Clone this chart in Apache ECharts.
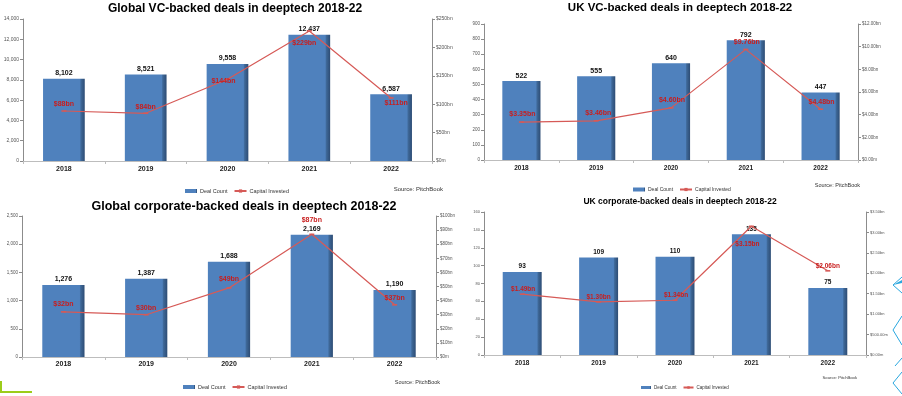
<!DOCTYPE html>
<html>
<head>
<meta charset="utf-8">
<script src="https://cdn.jsdelivr.net/npm/echarts@6/dist/echarts.min.js"></script>
<style>
  html, body { margin: 0; padding: 0; background: #fff; }
  #chart { width: 902px; height: 396px; }
</style>
</head>
<body>
<div id="chart"></div>
<script>
  // data
  const years = ['2018', '2019', '2020', '2021', '2022'];
  const globalVcDeals = [8102, 8521, 9558, 12437, 6587];
  const globalVcCapital = [88, 84, 144, 229, 111];
  const ukVcDeals = [522, 555, 640, 792, 447];
  const ukVcCapital = [3.35, 3.46, 4.60, 9.76, 4.48];
  const globalCorpDeals = [1276, 1387, 1688, 2169, 1190];
  const globalCorpCapital = [32, 30, 49, 87, 37];
  const ukCorpDeals = [93, 109, 110, 135, 75];
  const ukCorpCapital = [1.49, 1.30, 1.34, 3.15, 2.06];

  const fmtInt = v => Number(v).toLocaleString('en-US');
  const fmtBn = v => '$' + v + 'bn';
  const fmtBn2 = v => '$' + Number(v).toFixed(2) + 'bn';

  // layout of each panel (positions / styles only)
  const panels = [
    {
      title: 'Global VC-backed deals in deeptech 2018-22', titleX: 235, titleY: 3, titleSize: 12,
      grid: { left: 23, top: 19, width: 409, height: 142 },
      deals: globalVcDeals, capital: globalVcCapital,
      leftMax: 14000, leftStep: 2000, rightMax: 250, rightStep: 50,
      rightFmt: v => v === 0 ? '$0m' : '$' + v + 'bn',
      lineFmt: fmtBn,
      shifts: [[0, -7], [0, -6], [-4, 2], [-5, 12], [5, 5]],
      legend: { left: 185, top: 188, size: 5.5, w: 12, h: 4 },
      source: { x: 443, y: 189, size: 6 },
      tickSize: 5, catSize: 7, valSize: 7, catMargin: 5
    },
    {
      title: 'UK VC-backed deals in deeptech 2018-22', titleX: 680, titleY: 2, titleSize: 11.5,
      grid: { left: 484, top: 24, width: 374, height: 136 },
      deals: ukVcDeals, capital: ukVcCapital,
      leftMax: 900, leftStep: 100, rightMax: 12, rightStep: 2,
      rightFmt: v => v === 0 ? '$0.00m' : fmtBn2(v),
      lineFmt: fmtBn2,
      shifts: [[1, -8], [2, -8], [1, -8], [1, -7], [1, -7]],
      legend: { left: 633, top: 187, size: 5, w: 12, h: 4 },
      source: { x: 860, y: 185, size: 5.5 },
      tickSize: 4.5, catSize: 6.5, valSize: 7, catMargin: 5
    },
    {
      title: 'Global corporate-backed deals in deeptech 2018-22', titleX: 244, titleY: 200, titleSize: 12.5,
      grid: { left: 22, top: 216, width: 414, height: 141 },
      deals: globalCorpDeals, capital: globalCorpCapital,
      leftMax: 2500, leftStep: 500, rightMax: 100, rightStep: 10,
      rightFmt: v => v === 0 ? '$0m' : '$' + v + 'bn',
      lineFmt: fmtBn,
      shifts: [[0, -8], [0, -7], [0, -9], [0, -14], [0, -7]],
      legend: { left: 183, top: 384, size: 5.5, w: 12, h: 4 },
      source: { x: 440, y: 382, size: 5.5 },
      tickSize: 4.5, catSize: 7, valSize: 7, catMargin: 4
    },
    {
      title: 'UK corporate-backed deals in deeptech 2018-22', titleX: 680, titleY: 197, titleSize: 8.5,
      grid: { left: 484, top: 212, width: 382, height: 143 },
      deals: ukCorpDeals, capital: ukCorpCapital,
      leftMax: 160, leftStep: 20, rightMax: 3.5, rightStep: 0.5,
      rightFmt: v => v === 0 ? '$0.00m' : (v < 1 ? '$' + (v * 1000).toFixed(2) + 'm' : fmtBn2(v)),
      lineFmt: fmtBn2,
      shifts: [[1, -5], [0, -5], [1, -5], [-4, 18], [0, -5]],
      legend: { left: 641, top: 385, size: 4.5, w: 10, h: 3 },
      source: { x: 857, y: 378, size: 4.2 },
      tickSize: 4, catSize: 6.5, valSize: 6.5, catMargin: 5
    }
  ];

  const barFill = new echarts.graphic.LinearGradient(0, 0, 1, 0, [
    { offset: 0, color: '#4f81bd' },
    { offset: 0.88, color: '#4f81bd' },
    { offset: 0.91, color: '#3e6898' },
    { offset: 1, color: '#2d4c74' }
  ]);
  const lineColor = '#d65a57';
  const labelRed = '#c81e1e';

  const chart = echarts.init(document.getElementById('chart'), null, { renderer: 'canvas' });

  let titles = [], grids = [], xAxes = [], yAxes = [], legends = [], series = [], graphics = [];

  panels.forEach((p, i) => {
    titles.push({
      text: p.title,
      left: p.titleX, top: p.titleY, padding: 0,
      textAlign: 'center',
      textStyle: { fontFamily: 'Liberation Sans', fontWeight: 'bold', fontSize: p.titleSize, color: '#000' }
    });
    grids.push(Object.assign({ outerBoundsMode: 'none', containLabel: false }, p.grid));
    xAxes.push({
      type: 'category', gridIndex: i, data: years,
      axisLine: { lineStyle: { color: '#bdbdbd', width: 1 } },
      axisTick: { show: true, length: 3, lineStyle: { color: '#bdbdbd' } },
      axisLabel: { fontFamily: 'Liberation Sans', fontWeight: 'bold', fontSize: p.catSize, color: '#222', margin: p.catMargin }
    });
    yAxes.push({
      type: 'value', gridIndex: i, position: 'left',
      min: 0, max: p.leftMax, interval: p.leftStep,
      splitLine: { show: false },
      axisLine: { show: true, lineStyle: { color: '#8c8c8c' } },
      axisTick: { show: true, length: 3, lineStyle: { color: '#8c8c8c' } },
      axisLabel: { fontFamily: 'Liberation Sans', fontSize: p.tickSize, color: '#555', margin: 4, formatter: fmtInt }
    });
    yAxes.push({
      type: 'value', gridIndex: i, position: 'right',
      min: 0, max: p.rightMax, interval: p.rightStep,
      splitLine: { show: false },
      axisLine: { show: true, lineStyle: { color: '#8c8c8c' } },
      axisTick: { show: true, length: 3, lineStyle: { color: '#8c8c8c' } },
      axisLabel: { fontFamily: 'Liberation Sans', fontSize: p.tickSize, color: '#555', margin: 4, formatter: p.rightFmt }
    });
    legends.push({
      left: p.legend.left, top: p.legend.top, padding: 0, itemGap: 6,
      itemWidth: p.legend.w, itemHeight: p.legend.h,
      data: [{ name: 'Deal Count', icon: 'rect' }, { name: 'Capital Invested' }],
      textStyle: { fontFamily: 'Liberation Sans', fontSize: p.legend.size, color: '#333', padding: [0, 0, 0, -2] },
      selectedMode: false
    });
    series.push({
      name: 'Deal Count', type: 'bar', xAxisIndex: i, yAxisIndex: i * 2,
      data: p.deals, barWidth: '51%',
      itemStyle: { color: barFill },
      label: {
        show: true, position: 'top', distance: 2,
        fontFamily: 'Liberation Sans', fontWeight: 'bold', fontSize: p.valSize, color: '#111',
        formatter: d => fmtInt(d.value)
      }
    });
    series.push({
      name: 'Capital Invested', type: 'line', xAxisIndex: i, yAxisIndex: i * 2 + 1,
      data: p.capital.map((v, k) => ({
        value: v,
        label: { offset: p.shifts[k] }
      })),
      z: 5,
      symbol: 'rect', symbolSize: [5, 1.6],
      lineStyle: { color: lineColor, width: 1.2 },
      itemStyle: { color: lineColor },
      label: {
        show: true, position: 'inside',
        fontFamily: 'Liberation Sans', fontWeight: 'bold', fontSize: p.valSize, color: labelRed,
        formatter: d => p.lineFmt(d.value)
      }
    });
    graphics.push({
      type: 'text', x: p.source.x, y: p.source.y,
      style: { text: 'Source: PitchBook', fill: '#333', font: p.source.size + 'px "Liberation Sans"', align: 'right', verticalAlign: 'middle' }
    });
  });

  // slide decorations
  graphics.push(
    { type: 'polyline', shape: { points: [[1, 381], [1, 392], [32, 392]] }, style: { stroke: '#9ccc1a', lineWidth: 2, fill: null } },
    { type: 'polyline', shape: { points: [[902, 277], [893, 285], [902, 293]] }, style: { stroke: '#2aa7df', lineWidth: 1, fill: null } },
    { type: 'polygon', shape: { points: [[893, 285], [902, 280], [902, 283]] }, style: { fill: '#2aa7df' } },
    { type: 'polyline', shape: { points: [[902, 316], [893, 330], [902, 345]] }, style: { stroke: '#2aa7df', lineWidth: 1, fill: null } },
    { type: 'polyline', shape: { points: [[902, 358], [895, 366]] }, style: { stroke: '#2aa7df', lineWidth: 1, fill: null } },
    { type: 'polyline', shape: { points: [[902, 372], [893, 383], [902, 394]] }, style: { stroke: '#2aa7df', lineWidth: 1, fill: null } }
  );

  chart.setOption({
    animation: false,
    backgroundColor: '#fff',
    title: titles,
    grid: grids,
    xAxis: xAxes,
    yAxis: yAxes,
    legend: legends,
    series: series,
    graphic: graphics
  });
</script>
</body>
</html>
